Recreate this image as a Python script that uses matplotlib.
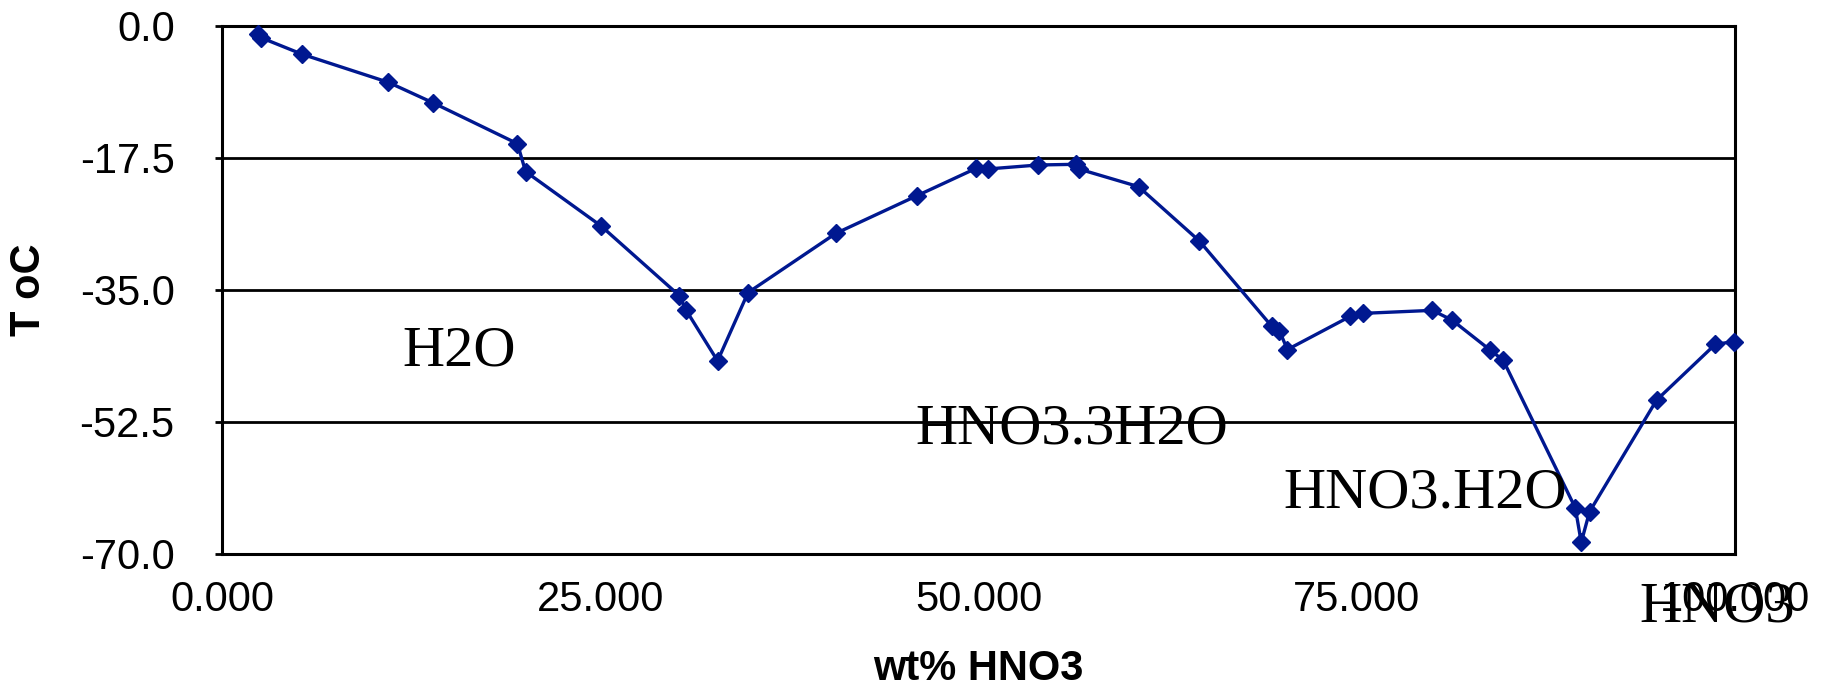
import matplotlib
matplotlib.use("Agg")
import matplotlib.pyplot as plt

wt_hno3 = [2.41, 2.58, 5.32, 11.0, 13.97, 19.53, 20.07, 25.05, 30.23, 30.67,
           32.76, 34.77, 40.57, 45.94, 49.85, 50.61, 53.95, 56.43, 56.63, 60.58,
           64.6, 69.38, 69.89, 70.42, 74.57, 75.41, 80.0, 81.31, 83.78, 84.68,
           89.45, 89.84, 90.39, 94.82, 98.7, 99.93]
temp_c = [-1.1, -1.55, -3.76, -7.47, -10.2, -15.6, -19.3, -26.5, -35.75, -37.65,
          -44.4, -35.35, -27.5, -22.5, -18.87, -18.96, -18.43, -18.34, -18.96, -21.3,
          -28.5, -39.8, -40.4, -42.9, -38.5, -38.1, -37.7, -39.0, -42.9, -44.3,
          -63.9, -68.45, -64.4, -49.6, -42.2, -41.85]

y_ticks = [0.0, -17.5, -35.0, -52.5, -70.0]
x_ticks = [0, 25, 50, 75, 100]

phase_labels = ["H2O", "HNO3.3H2O", "HNO3.H2O", "HNO3"]
phase_x = [15.7, 56.2, 79.5, 98.8]
phase_y = [-45.0, -55.4, -63.9, -79.0]

fig = plt.figure(figsize=(18.28, 6.87), dpi=100)
ax = fig.add_axes([0.1214, 0.1936, 0.8277, 0.7686])

ax.set_xlim(0, 100)
ax.set_ylim(-70, 0)

for yv in y_ticks[1:-1]:
    ax.axhline(yv, color="black", lw=2.0, zorder=1)

ax.plot(wt_hno3, temp_c, color="#001890", lw=2.4, marker="D", ms=8.8,
        mfc="#001890", mec="#001890", zorder=3, clip_on=False)

for s in ax.spines.values():
    s.set_linewidth(2.2)
    s.set_color("black")

ax.set_yticks(y_ticks)
ax.set_yticklabels([f"{v:.1f}" for v in y_ticks])
ax.set_xticks(x_ticks)
ax.set_xticklabels([f"{v:.3f}" for v in x_ticks])

ax.tick_params(axis="y", length=5, width=2, direction="out", pad=29,
               labelsize=30)
ax.tick_params(axis="x", length=0, pad=19, labelsize=30)
for lab in ax.get_xticklabels() + ax.get_yticklabels():
    lab.set_fontfamily("Liberation Sans")

ax.set_xlabel("wt% HNO3", fontsize=30, fontweight="bold",
              fontfamily="Liberation Sans", va="center")
ax.xaxis.set_label_coords(0.5, -0.218)
ax.set_ylabel("T oC", fontsize=30, fontweight="bold",
              fontfamily="Liberation Sans", va="center")
ax.yaxis.set_label_coords(-0.1276, 0.5)

for lbl, xv, yv in zip(phase_labels, phase_x, phase_y):
    ax.text(xv, yv, lbl, fontsize=42, fontfamily="Liberation Serif",
            ha="center", va="baseline", color="black", clip_on=False, zorder=4)

fig.savefig("out.png", dpi=100)
